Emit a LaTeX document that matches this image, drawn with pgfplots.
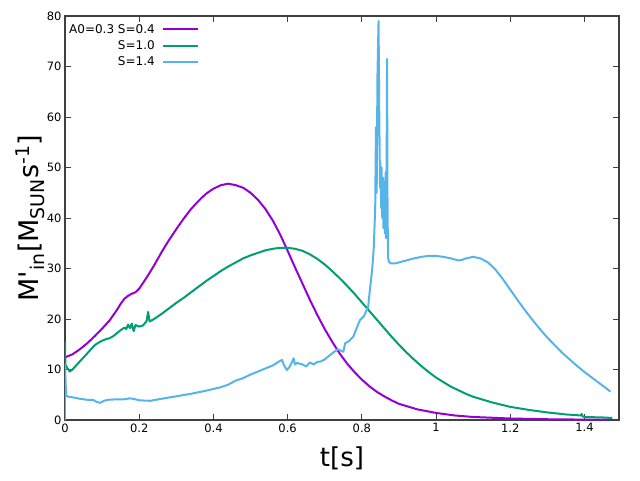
\documentclass[border=0pt]{standalone}
\usepackage{pgfplots}
\pgfplotsset{compat=1.18}
\usepackage{fontspec}
\setmainfont{DejaVu Sans}
\definecolor{cpurple}{HTML}{9400D3}
\definecolor{cgreen}{HTML}{009E73}
\definecolor{cblue}{HTML}{56B4E9}
\definecolor{axgray}{HTML}{404040}
\begin{document}
\begin{tikzpicture}
\path[use as bounding box] (-65pt,-60pt) rectangle (575pt,420pt);
\begin{axis}[
  at={(0pt,0pt)}, anchor=south west,
  scale only axis, width=554pt, height=404pt,
  xmin=0, xmax=1.493, ymin=0, ymax=80,
  xtick={0,0.2,0.4,0.6,0.8,1,1.2,1.4},
  ytick={0,10,20,30,40,50,60,70,80},
  tick align=inside, major tick length=6pt,
  tick style={axgray, line width=0.8pt},
  axis line style={axgray, line width=1.2pt},
  ticklabel style={font=\fontsize{11.5}{13}\selectfont},
  /pgf/number format/assume math mode=true,
  every axis x label/.style={at={(axis description cs:0.5,-0.094)}, anchor=center},
  every axis y label/.style={at={(axis description cs:-0.063,0.5)}, rotate=90, anchor=center},
  xlabel={\fontsize{26}{30}\selectfont t[s]},
  ylabel={\fontsize{27}{30}\selectfont M\textquotesingle\textsubscript{in}[M\textsubscript{SUN}s\textsuperscript{-1}]},
  legend cell align=right, legend plot pos=right,
  legend style={at={(axis description cs:0.0,0.99)}, anchor=north west, draw=none, fill=none,
    font=\fontsize{12}{14}\selectfont, row sep=2pt, inner xsep=2pt},
  legend image code/.code={\path (0pt,0pt); \draw[#1, line width=2pt] (5pt,0pt) -- (40pt,0pt);},
]
\addplot[cpurple, line width=2pt, line join=round] coordinates {
(0,12.4) (0.02,13.0) (0.04,14.0) (0.06,15.2) (0.08,16.6) (0.10,18.1) (0.12,19.7)
(0.14,21.8) (0.15,23.0) (0.16,24.0) (0.17,24.6) (0.18,25.0) (0.19,25.3) (0.20,26.0)
(0.22,28.2) (0.24,30.6) (0.26,33.2) (0.28,35.6) (0.30,37.8) (0.32,39.9) (0.34,41.8)
(0.36,43.4) (0.38,44.8) (0.40,45.8) (0.42,46.5) (0.44,46.8) (0.46,46.5) (0.48,46.0)
(0.50,45.0) (0.52,43.6) (0.54,41.8) (0.56,39.5) (0.58,36.7) (0.60,33.5) (0.62,30.2)
(0.64,27.0) (0.66,23.8) (0.68,20.8) (0.70,18.0) (0.72,15.5) (0.74,13.2) (0.76,11.2)
(0.78,9.5) (0.80,8.0) (0.82,6.7) (0.84,5.6) (0.86,4.7) (0.88,3.9) (0.90,3.2)
(0.95,2.1) (1.00,1.4) (1.05,0.9) (1.10,0.6) (1.20,0.3) (1.30,0.15) (1.40,0.08) (1.47,0.05)
};
\addlegendentry{A0=0.3 S=0.4}
\addplot[cgreen, line width=2pt, line join=round] coordinates {
(0,15.5) (0.001,11.0) (0.006,10.3) (0.013,9.6) (0.02,10.0) (0.03,10.8) (0.04,11.6)
(0.05,12.4) (0.06,13.2) (0.07,14.0) (0.08,14.8) (0.09,15.3) (0.10,15.7) (0.11,16.0)
(0.12,16.2) (0.13,16.6) (0.14,17.2) (0.15,17.8) (0.16,18.3) (0.165,18.0) (0.17,18.9)
(0.175,18.2) (0.18,19.1) (0.185,17.6) (0.19,18.8) (0.20,18.5) (0.21,18.7) (0.22,19.6)
(0.224,21.4) (0.228,19.5) (0.24,20.0) (0.26,21.0) (0.28,22.1) (0.30,23.2) (0.32,24.2)
(0.34,25.3) (0.36,26.4) (0.38,27.5) (0.40,28.5) (0.42,29.5) (0.44,30.4) (0.46,31.2)
(0.48,32.0) (0.50,32.6) (0.52,33.1) (0.54,33.6) (0.56,33.9) (0.58,34.1) (0.60,34.1)
(0.62,33.9) (0.64,33.5) (0.66,32.8) (0.68,31.9) (0.70,30.8) (0.72,29.5) (0.74,28.1)
(0.76,26.6) (0.78,25.0) (0.80,23.3) (0.82,21.6) (0.84,19.9) (0.86,18.2) (0.88,16.5)
(0.90,14.9) (0.92,13.4) (0.94,12.0) (0.96,10.7) (0.98,9.5) (1.00,8.4) (1.02,7.5)
(1.04,6.6) (1.06,5.9) (1.08,5.2) (1.10,4.6) (1.15,3.5) (1.20,2.6) (1.25,2.0)
(1.30,1.5) (1.35,1.1) (1.39,0.9) (1.392,1.2) (1.395,0.7) (1.40,0.6) (1.45,0.5) (1.475,0.4)
};
\addlegendentry{S=1.0}
\addplot[cblue, line width=2pt, line join=round] coordinates {
(0,0) (0,11) (0.003,4.8) (0.01,4.6) (0.02,4.5) (0.04,4.2) (0.06,4.0) (0.075,4.0)
(0.085,3.6) (0.095,3.4) (0.105,3.8) (0.115,4.0) (0.14,4.1) (0.16,4.1) (0.175,4.3)
(0.19,4.1) (0.20,3.9) (0.23,3.8) (0.26,4.2) (0.30,4.7) (0.34,5.2) (0.38,5.8)
(0.42,6.5) (0.44,7.0) (0.46,7.8) (0.48,8.3) (0.50,9.0) (0.52,9.6) (0.54,10.2)
(0.56,10.8) (0.575,11.5) (0.585,11.9) (0.59,10.9) (0.598,9.9) (0.605,10.5) (0.612,11.5)
(0.616,12.2) (0.62,11.0) (0.625,11.3) (0.64,11.0) (0.65,10.6) (0.66,11.4) (0.67,11.0)
(0.68,11.5) (0.69,11.6) (0.70,12.0) (0.72,13.2) (0.735,14.0) (0.75,13.5) (0.755,15.2)
(0.765,15.6) (0.777,16.5) (0.785,18.0) (0.795,19.8) (0.805,20.5) (0.813,21.8) (0.817,22.4)
(0.822,26) (0.828,30) (0.832,34) (0.836,42) (0.838,58) (0.840,45) (0.842,68)
(0.845,79) (0.847,60) (0.849,46) (0.850,51) (0.852,42) (0.853,50) (0.855,40)
(0.857,48) (0.858,38) (0.860,46) (0.862,37) (0.864,49) (0.865,36) (0.867,55)
(0.868,71.5) (0.869,45) (0.870,36) (0.871,32) (0.874,31.2) (0.88,31.0) (0.89,31.0)
(0.90,31.2) (0.92,31.6) (0.94,32.0) (0.96,32.3) (0.98,32.5) (1.00,32.5) (1.02,32.3)
(1.04,32.0) (1.06,31.6) (1.07,31.7) (1.08,32.0) (1.10,32.3) (1.12,32.0) (1.14,31.2)
(1.16,29.8) (1.18,27.9) (1.20,25.8) (1.22,23.7) (1.24,21.7) (1.26,19.8) (1.28,18.0)
(1.30,16.3) (1.32,14.8) (1.34,13.3) (1.36,12.0) (1.38,10.7) (1.40,9.5) (1.42,8.4)
(1.44,7.3) (1.46,6.2) (1.47,5.6)
};
\addlegendentry{S=1.4}
\end{axis}
\end{tikzpicture}
\end{document}
